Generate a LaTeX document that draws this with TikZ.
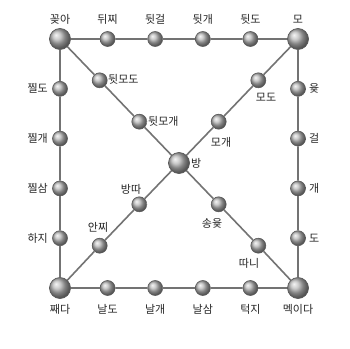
\documentclass[tikz,border=0pt]{standalone}
\usepackage{fontspec}
\newfontfamily\kr{Noto Sans CJK KR}
\begin{document}
\begin{tikzpicture}[x=1pt,y=-1pt,
  bigdot/.style={circle,minimum size=21pt,inner sep=0pt,draw=black!65,line width=0.7pt,ball color=gray!55},
  smalldot/.style={circle,minimum size=15pt,inner sep=0pt,draw=black!65,line width=0.6pt,ball color=gray!55},
  lab/.style={font=\kr\fontsize{11}{11}\selectfont,text=black!85,inner sep=0pt},
  conn/.style={draw=black!55,line width=1.6pt}]
\useasboundingbox[fill=white] (0,0) rectangle (350,348);
% corners and centre
\node[bigdot] (tl) at (60,39) {};
\node[bigdot] (tr) at (298,39) {};
\node[bigdot] (bl) at (60,288) {};
\node[bigdot] (br) at (298,288) {};
\node[bigdot] (c) at (179,163) {};
% top
\node[smalldot] (t1) at (107.6,39) {};
\node[smalldot] (t2) at (155.2,39) {};
\node[smalldot] (t3) at (202.8,39) {};
\node[smalldot] (t4) at (250.4,39) {};
% bottom
\node[smalldot] (b1) at (107.6,288) {};
\node[smalldot] (b2) at (155.2,288) {};
\node[smalldot] (b3) at (202.8,288) {};
\node[smalldot] (b4) at (250.4,288) {};
% left
\node[smalldot] (l1) at (60,88.8) {};
\node[smalldot] (l2) at (60,138.6) {};
\node[smalldot] (l3) at (60,188.4) {};
\node[smalldot] (l4) at (60,238.2) {};
% right
\node[smalldot] (r1) at (298,88.8) {};
\node[smalldot] (r2) at (298,138.6) {};
\node[smalldot] (r3) at (298,188.4) {};
\node[smalldot] (r4) at (298,238.2) {};
% diagonals
\node[smalldot] (d1) at (99.7,80.3) {};
\node[smalldot] (d2) at (139.3,121.7) {};
\node[smalldot] (e1) at (258.3,80.3) {};
\node[smalldot] (e2) at (218.7,121.7) {};
\node[smalldot] (f1) at (139.3,204.3) {};
\node[smalldot] (f2) at (99.7,245.7) {};
\node[smalldot] (g1) at (218.7,204.3) {};
\node[smalldot] (g2) at (258.3,245.7) {};
% connectors
\path[conn] (tl) -- (t1) (t1) -- (t2) (t2) -- (t3) (t3) -- (t4) (t4) -- (tr)
  (bl) -- (b1) (b1) -- (b2) (b2) -- (b3) (b3) -- (b4) (b4) -- (br)
  (tl) -- (l1) (l1) -- (l2) (l2) -- (l3) (l3) -- (l4) (l4) -- (bl)
  (tr) -- (r1) (r1) -- (r2) (r2) -- (r3) (r3) -- (r4) (r4) -- (br)
  (tl) -- (d1) (d1) -- (d2) (d2) -- (c)
  (tr) -- (e1) (e1) -- (e2) (e2) -- (c)
  (c) -- (f1) (f1) -- (f2) (f2) -- (bl)
  (c) -- (g1) (g1) -- (g2) (g2) -- (br);
% labels
\node[lab] (Ltl) at (60,19) {꽂아};
\node[lab] (Lt1) at (107.6,19) {뒤찌};
\node[lab] (Lt2) at (155.2,19) {뒷걸};
\node[lab] (Lt3) at (202.8,19) {뒷개};
\node[lab] (Lt4) at (250.4,19) {뒷도};
\node[lab] (Ltr) at (298,19) {모};
\node[lab,anchor=east] (Ll1) at (48,88.8) {찔도};
\node[lab,anchor=east] (Ll2) at (48,138.6) {찔개};
\node[lab,anchor=east] (Ll3) at (48,188.4) {찔삼};
\node[lab,anchor=east] (Ll4) at (48,238.2) {하지};
\node[lab,anchor=west] (Lr1) at (309,88.8) {윷};
\node[lab,anchor=west] (Lr2) at (309,138.6) {걸};
\node[lab,anchor=west] (Lr3) at (309,188.4) {개};
\node[lab,anchor=west] (Lr4) at (309,238.2) {도};
\node[lab] (Lbl) at (60,309) {째다};
\node[lab] (Lb1) at (107.6,309) {날도};
\node[lab] (Lb2) at (155.2,309) {날개};
\node[lab] (Lb3) at (202.8,309) {날삼};
\node[lab] (Lb4) at (250.4,309) {턱지};
\node[lab] (Lbr) at (298,309) {멕이다};
\node[lab,anchor=west] (Ld1) at (108,79) {뒷모도};
\node[lab,anchor=west] (Ld2) at (148,121) {뒷모개};
\node[lab] (Le1) at (266,97) {모도};
\node[lab] (Le2) at (221,142) {모개};
\node[lab,anchor=west] (Lc) at (191,163) {방};
\node[lab] (Lf1) at (131,189) {방따};
\node[lab] (Lf2) at (98,227) {안찌};
\node[lab] (Lg1) at (212,223) {송윷};
\node[lab] (Lg2) at (249,263) {따니};
\end{tikzpicture}
\end{document}
